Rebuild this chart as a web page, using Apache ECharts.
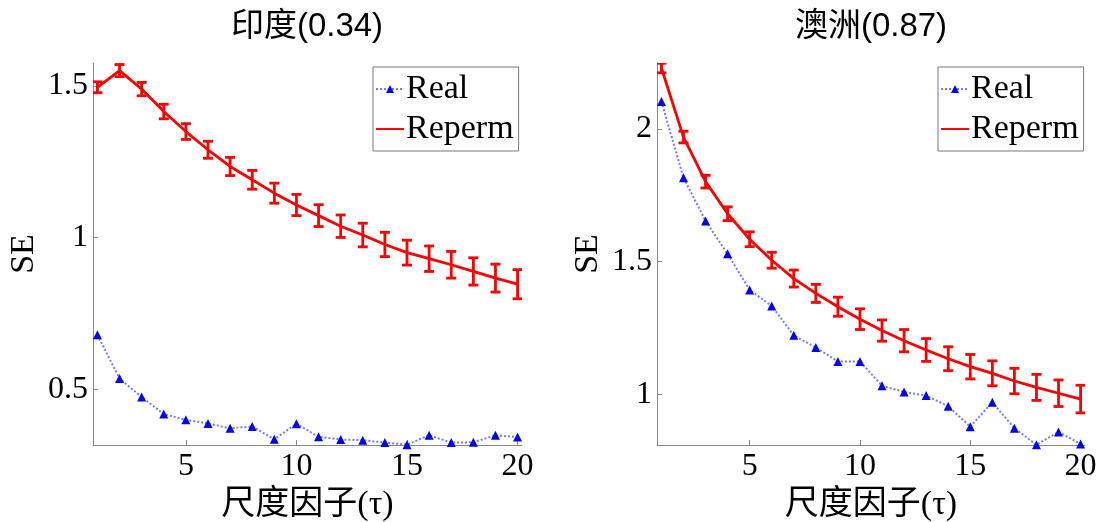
<!DOCTYPE html>
<html>
<head>
<meta charset="utf-8">
<script src="https://cdn.jsdelivr.net/npm/echarts@6/dist/echarts.min.js"></script>
<style>
  html, body { margin: 0; padding: 0; background: #fff; }
  #chart { width: 1109px; height: 522px; }
</style>
</head>
<body>
<div id="chart"></div>
<script>
// scale factor tau
var taus = [1, 2, 3, 4, 5, 6, 7, 8, 9, 10, 11, 12, 13, 14, 15, 16, 17, 18, 19, 20];

// 印度
var indiaReal = [0.679, 0.535, 0.474, 0.418, 0.399, 0.387, 0.371, 0.377, 0.335, 0.386,
                 0.343, 0.334, 0.332, 0.324, 0.317, 0.348, 0.324, 0.325, 0.348, 0.342];
var indiaPerm = [1.495, 1.550, 1.489, 1.415, 1.349, 1.289, 1.234, 1.190, 1.146, 1.107,
                 1.072, 1.037, 1.008, 0.977, 0.950, 0.930, 0.910, 0.888, 0.866, 0.846];
var indiaErr  = [0.018, 0.020, 0.022, 0.024, 0.026, 0.028, 0.030, 0.031, 0.033, 0.035,
                 0.036, 0.037, 0.039, 0.040, 0.041, 0.042, 0.044, 0.045, 0.046, 0.048];

// 澳洲
var ausReal = [2.103, 1.816, 1.653, 1.529, 1.393, 1.333, 1.222, 1.176, 1.124, 1.124,
               1.032, 1.009, 0.995, 0.955, 0.878, 0.970, 0.872, 0.810, 0.858, 0.813];
var ausPerm = [2.229, 1.969, 1.801, 1.680, 1.584, 1.505, 1.436, 1.380, 1.330, 1.283,
               1.240, 1.202, 1.167, 1.134, 1.104, 1.079, 1.050, 1.026, 1.004, 0.982];
var ausErr  = [0.018, 0.022, 0.024, 0.026, 0.028, 0.030, 0.032, 0.034, 0.036, 0.039,
               0.040, 0.042, 0.043, 0.045, 0.046, 0.047, 0.048, 0.049, 0.050, 0.052];

var xTicks = [5, 10, 15, 20];
var yTicksIndia = [0.5, 1, 1.5];
var yTicksAus = [1, 1.5, 2];

var serif = '"Liberation Serif", "Noto Sans CJK SC", serif';
var sans = '"Liberation Sans", "Noto Sans CJK SC", sans-serif';

function pairs(ys) {
    return taus.map(function (t, i) { return [t, ys[i]]; });
}
function bars(ys, es) {
    return taus.map(function (t, i) { return [t, ys[i] - es[i], ys[i] + es[i]]; });
}

function renderErr(params, api) {
    var x = api.value(0);
    var lo = api.coord([x, api.value(1)]);
    var hi = api.coord([x, api.value(2)]);
    var w = 5;
    var st = { stroke: '#ff0000', lineWidth: 2.8 };
    return {
        type: 'group',
        children: [
            { type: 'line', shape: { x1: lo[0], y1: lo[1], x2: hi[0], y2: hi[1] }, style: st },
            { type: 'line', shape: { x1: lo[0] - w, y1: lo[1], x2: lo[0] + w, y2: lo[1] }, style: st },
            { type: 'line', shape: { x1: hi[0] - w, y1: hi[1], x2: hi[0] + w, y2: hi[1] }, style: st }
        ]
    };
}

function xAxis(idx) {
    return {
        type: 'value', gridIndex: idx, min: 0.8, max: 20.2,
        name: '尺度因子(τ)', nameLocation: 'middle', nameGap: 40,
        nameTextStyle: { fontFamily: serif, fontSize: 34, color: '#000' },
        axisLine: { lineStyle: { color: '#888', width: 1 } },
        axisTick: { inside: true, length: 5, lineStyle: { color: '#888' }, customValues: xTicks },
        axisLabel: { customValues: xTicks, fontFamily: serif, fontSize: 32, color: '#000', margin: 6 },
        splitLine: { show: false }
    };
}
function yAxis(idx, min, max, ticks) {
    return {
        type: 'value', gridIndex: idx, min: min, max: max,
        name: 'SE', nameLocation: 'middle', nameGap: 52, nameRotate: 90,
        nameTextStyle: { fontFamily: serif, fontSize: 34, color: '#000' },
        axisLine: { show: true, lineStyle: { color: '#888', width: 1 } },
        axisTick: { show: true, inside: true, length: 5, lineStyle: { color: '#888' }, customValues: ticks },
        axisLabel: { customValues: ticks, fontFamily: serif, fontSize: 32, color: '#000', margin: 5 },
        splitLine: { show: false }
    };
}
function legend(left) {
    return {
        orient: 'vertical', left: left, top: 67,
        data: ['Real', 'Reperm'],
        itemWidth: 28, itemHeight: 10, itemGap: 6,
        padding: [5, 5, 5, 2],
        borderColor: '#777', borderWidth: 1, backgroundColor: '#fff',
        textStyle: { fontFamily: serif, fontSize: 34, color: '#000', padding: [0, 0, 0, -3] },
        selectedMode: false
    };
}

var realStyle = {
    type: 'line', symbol: 'triangle', symbolSize: 9,
    itemStyle: { color: '#0000ff' },
    lineStyle: { color: '#6f7cff', width: 2, type: 'dotted' },
    z: 3
};
var permStyle = {
    type: 'line', symbol: 'none',
    itemStyle: { color: 'rgba(0,0,0,0)' },
    lineStyle: { color: '#ff0000', width: 2.8 },
    z: 2
};

var chart = echarts.init(document.getElementById('chart'), null, { renderer: 'canvas' });
chart.setOption({
    animation: false,
    backgroundColor: '#fff',
    title: [
        { text: '印度(0.34)', left: 302, top: 5, textAlign: 'center',
          textStyle: { fontFamily: sans, fontSize: 33, fontWeight: 'normal', color: '#000' } },
        { text: '澳洲(0.87)', left: 866, top: 5, textAlign: 'center',
          textStyle: { fontFamily: sans, fontSize: 33, fontWeight: 'normal', color: '#000' } }
    ],
    grid: [
        { left: 93, top: 63, width: 429, height: 382, outerBoundsMode: 'none' },
        { left: 657, top: 63, width: 428, height: 382, outerBoundsMode: 'none' }
    ],
    legend: [legend(373), legend(938)],
    xAxis: [xAxis(0), xAxis(1)],
    yAxis: [yAxis(0, 0.316, 1.575, yTicksIndia), yAxis(1, 0.809, 2.248, yTicksAus)],
    series: [
        Object.assign({ name: 'Real', xAxisIndex: 0, yAxisIndex: 0, data: pairs(indiaReal) }, realStyle),
        Object.assign({ name: 'Reperm', xAxisIndex: 0, yAxisIndex: 0, data: pairs(indiaPerm) }, permStyle),
        { name: 'errIndia', type: 'custom', xAxisIndex: 0, yAxisIndex: 0, clip: true,
          renderItem: renderErr, encode: { x: 0, y: [1, 2] }, data: bars(indiaPerm, indiaErr), z: 2 },
        Object.assign({ name: 'Real', xAxisIndex: 1, yAxisIndex: 1, data: pairs(ausReal) }, realStyle),
        Object.assign({ name: 'Reperm', xAxisIndex: 1, yAxisIndex: 1, data: pairs(ausPerm) }, permStyle),
        { name: 'errAus', type: 'custom', xAxisIndex: 1, yAxisIndex: 1, clip: true,
          renderItem: renderErr, encode: { x: 0, y: [1, 2] }, data: bars(ausPerm, ausErr), z: 2 }
    ]
});
</script>
</body>
</html>
